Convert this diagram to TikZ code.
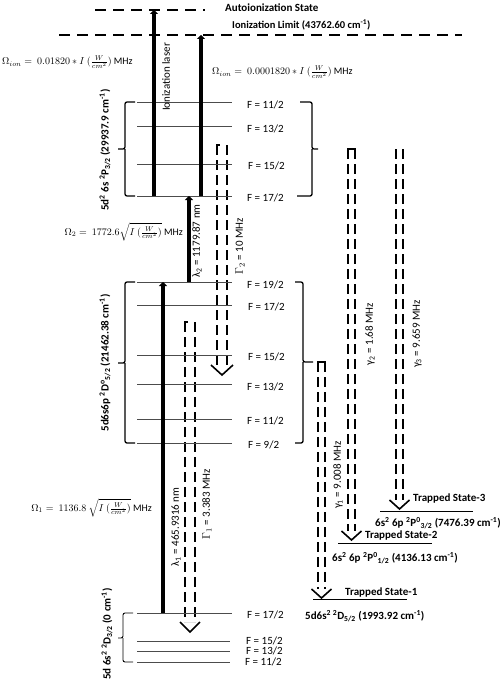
\documentclass[tikz,border=0pt]{standalone}
\usepackage{fontspec}
\setmainfont{Carlito}
\usetikzlibrary{arrows.meta}
\tikzset{
  level/.style={gray!60!black, line width=0.8pt},
  laser/.style={line width=3.6pt, -{Triangle[length=4pt,width=8pt]}},
  decay/.style={double, double distance=8.6pt, line width=1.4pt, dash pattern=on 10pt off 5pt},
  thindecay/.style={decay, double distance=5.6pt},
  chev/.style={line width=1.6pt},
  topbar/.style={line width=1.4pt},
  brk/.style={line width=1.3pt, rounded corners=2pt},
  ionline/.style={line width=1.6pt, dash pattern=on 11pt off 7pt},
  flab/.style={font=\fontsize{11}{12}\selectfont, inner sep=0pt},
  blab/.style={font=\bfseries\fontsize{11}{12}\selectfont, inner sep=0pt},
  rlab/.style={font=\fontsize{11}{12}\selectfont, inner sep=0pt, rotate=90},
  eqlab/.style={font=\fontsize{10}{12}\selectfont, inner sep=0pt},
}
\begin{document}
\begin{tikzpicture}[x=1pt,y=-1pt]
  \useasboundingbox (0,0) rectangle (503,685);
  % ionization limits
  \coordinate (auL) at (95,10);
  \coordinate (auR) at (205,10);
  \coordinate (ilL) at (59,35);
  \coordinate (ilR) at (462,35);
  \draw[ionline] (auL) -- (auR);
  \draw[ionline] (ilL) -- (ilR);
  \node[blab, anchor=west] (auto) at (225,8) {Autoionization State};
  \node[blab, anchor=west, font=\bfseries\fontsize{10.5}{12}\selectfont] (ilim) at (232,25) {Ionization Limit (43762.60 cm\textsuperscript{-1})};

  % decay arrows (drawn first, levels cross them)
  \coordinate (G2a) at (222,145); \coordinate (G2b) at (222,365); \coordinate (G2t) at (222,375);
  \coordinate (G1a) at (190,322); \coordinate (G1b) at (190,622); \coordinate (G1t) at (190,632);
  \coordinate (g1a) at (321.5,362); \coordinate (g1b) at (321.5,589); \coordinate (g1t) at (321.5,598);
  \coordinate (g2a) at (351.5,149); \coordinate (g2b) at (351.5,531); \coordinate (g2t) at (351.5,540);
  \coordinate (g3a) at (399.5,149); \coordinate (g3b) at (399.5,500); \coordinate (g3t) at (399.5,509);
  \draw[decay] (G2a) -- (G2b);
  \draw[decay] (G1a) -- (G1b);
  \draw[thindecay] (g1a) -- (g1b);
  \draw[thindecay] (g2a) -- (g2b);
  \draw[thindecay] (g3a) -- (g3b);
  \draw[chev] (G2t) ++(-11,-10) -- (G2t) -- ++(11,-10);
  \draw[chev] (G1t) ++(-10,-10) -- (G1t) -- ++(10,-10);
  \draw[chev] (g1t) ++(-10,-9) -- (g1t) -- ++(10,-9);
  \draw[chev] (g2t) ++(-10,-9) -- (g2t) -- ++(10,-9);
  \draw[chev] (g3t) ++(-10,-9) -- (g3t) -- ++(10,-9);
  \draw[topbar] (G2a) ++(-5.7,0) -- ++(4,0);
  \draw[topbar] (G1a) ++(-5.7,0) -- ++(4,0);
  \draw[topbar] (g1a) ++(-4.2,0) -- ++(8.4,0);
  \draw[topbar] (g2a) ++(-4.2,0) -- ++(8.4,0);

  % 5d2 6s 2P3/2 levels
  \draw[level] (137,102) -- (232,102);
  \draw[level] (137,126) -- (232,126);
  \draw[level] (137,164) -- (232,164);
  \draw[level] (137,196) -- (232,196);
  \node[flab, anchor=west] (p11) at (247,105) {F = 11/2};
  \node[flab, anchor=west] (p13) at (247,129) {F = 13/2};
  \node[flab, anchor=west] (p15) at (248,166) {F = 15/2};
  \node[flab, anchor=west] (p17) at (247,198) {F = 17/2};
  \draw[brk] (135,102) -| (125,149) -- (118,149) (125,149) |- (135,196);
  \draw[brk] (300,102) -| (312,149) -- (318,149) (312,149) |- (297,196);
  \node[blab, rotate=90] (pstate) at (105,150) {5d\textsuperscript{2} 6s \textsuperscript{2}P\textsubscript{3/2} (29937.9 cm\textsuperscript{-1})};

  % 5d6s6p 2D5/2 levels
  \draw[level] (137,282) -- (232,282);
  \draw[level] (137,305) -- (232,305);
  \draw[level] (137,355) -- (232,355);
  \draw[level] (137,384) -- (232,384);
  \draw[level] (137,419) -- (232,419);
  \draw[level] (137,443) -- (232,443);
  \node[flab, anchor=west] (d19) at (247,285) {F = 19/2};
  \node[flab, anchor=west] (d17) at (248,307) {F = 17/2};
  \node[flab, anchor=west] (d15) at (248,357) {F = 15/2};
  \node[flab, anchor=west] (d13) at (247,387) {F = 13/2};
  \node[flab, anchor=west] (d11) at (247,421) {F = 11/2};
  \node[flab, anchor=west] (d9) at (248,445) {F = 9/2};
  \draw[brk] (135,282) -| (125,363) -- (118,363) (125,363) |- (135,443);
  \draw[brk] (295,282) -| (303,362) -- (313,362) (303,362) |- (295,443);
  \node[blab, rotate=90] (dstate) at (105,363) {5d6s6p \textsuperscript{2}D\textsuperscript{o}\textsubscript{5/2} (21462.38 cm\textsuperscript{-1})};

  % 5d 6s2 2D3/2 ground levels
  \draw[level] (137,613) -- (232,613);
  \draw[level] (137,641) -- (230,641);
  \draw[level] (137,651) -- (230,651);
  \draw[level] (137,662) -- (230,662);
  \node[flab, anchor=west] (s17) at (247,615) {F = 17/2};
  \node[flab, anchor=west] (s15) at (246,641) {F = 15/2};
  \node[flab, anchor=west] (s13) at (246,651) {F = 13/2};
  \node[flab, anchor=west] (s11) at (245,662) {F = 11/2};
  \draw[brk, line width=0.9pt] (133,613) -| (123,638) -- (118,638) (123,638) |- (133,662);
  \node[blab, rotate=90] (sstate) at (107,634) {5d 6s\textsuperscript{2} \textsuperscript{2}D\textsubscript{3/2} (0 cm\textsuperscript{-1})};

  % trapped states
  \draw[level, black] (380,511) -- (473,511);
  \draw[level, black] (338,543) -- (432,543);
  \draw[level, black] (313,599) -- (407,599);
  \node[blab, anchor=west] (ts3) at (413,498) {Trapped State-3};
  \node[blab, anchor=west] (ts3e) at (375,523) {6s\textsuperscript{2} 6p \textsuperscript{2}P\textsuperscript{0}\textsubscript{3/2} (7476.39 cm\textsuperscript{-1})};
  \node[blab, anchor=west] (ts2) at (365,535) {Trapped State-2};
  \node[blab, anchor=west] (ts2e) at (332,558) {6s\textsuperscript{2} 6p \textsuperscript{2}P\textsuperscript{0}\textsubscript{1/2} (4136.13 cm\textsuperscript{-1})};
  \node[blab, anchor=west] (ts1) at (345,592) {Trapped State-1};
  \node[blab, anchor=west] (ts1e) at (305,616) {5d6s\textsuperscript{2}\,\textsuperscript{2}D\textsubscript{5/2} (1993.92 cm\textsuperscript{-1})};

  % lasers
  \coordinate (ion1a) at (154,196); \coordinate (ion1b) at (154,10);
  \coordinate (ion2a) at (201,196); \coordinate (ion2b) at (201,35);
  \coordinate (l2a) at (189,282); \coordinate (l2b) at (189,196);
  \coordinate (l1a) at (163,613); \coordinate (l1b) at (163,282);
  \draw[laser] (ion1a) -- (ion1b);
  \draw[laser] (ion2a) -- (ion2b);
  \draw[laser] (l2a) -- (l2b);
  \draw[laser] (l1a) -- (l1b);

  % rotated labels
  \node[rlab] (ionlas) at (166,77) {Ionization laser};
  \node[rlab] (lam2) at (197,241) {λ\textsubscript{2} = 1179.87 nm};
  \node[rlab] (lam1) at (176,527) {λ\textsubscript{1} = 465.9316 nm};
  \node[rlab] (gam2) at (240,246) {$\Gamma_2$ = 10 MHz};
  \node[rlab] (gam1) at (207,504) {$\Gamma_1$ = 3.383 MHz};
  \node[rlab] (sg1) at (338,475) {γ\textsubscript{1} = 9.008 MHz};
  \node[rlab] (sg2) at (370,334) {γ\textsubscript{2} = 1.68 MHz};
  \node[rlab] (sg3) at (417,334) {γ\textsubscript{3} = 9.659 MHz};

  % Rabi frequencies
  \node[eqlab, anchor=west] (omi1) at (2,62) {$\Omega_{ion} =\ 0.01820 * I\ (\frac{W}{cm^2})$ MHz};
  \node[eqlab, anchor=west] (omi2) at (212,72) {$\Omega_{ion} =\ 0.0001820 * I\ (\frac{W}{cm^2})$ MHz};
  \node[eqlab, anchor=east] (om2) at (183,232) {$\Omega_2 =\ 1772.6\sqrt{I\ (\frac{W}{cm^2})}$ MHz};
  \node[eqlab, anchor=east] (om1) at (152,508) {$\Omega_1 =\ 1136.8\ \sqrt{I\ (\frac{W}{cm^2})}$ MHz};
\end{tikzpicture}
\end{document}
